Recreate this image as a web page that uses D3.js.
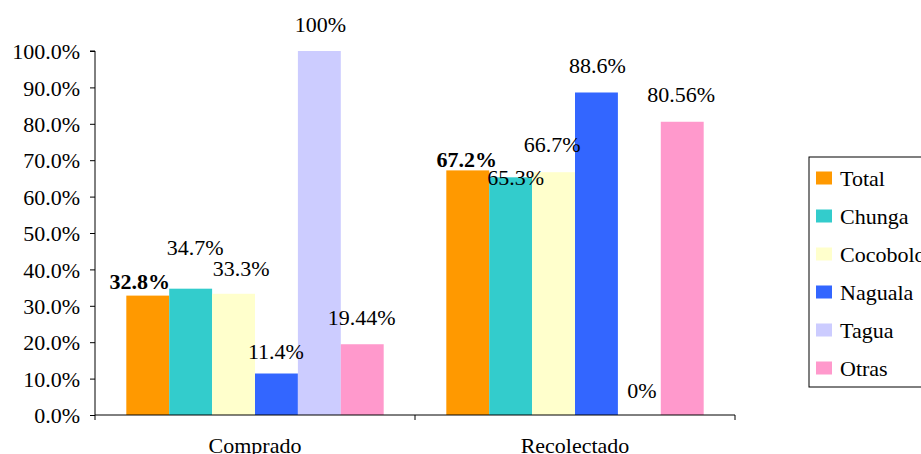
<!DOCTYPE html>
<html><head><meta charset="utf-8">
<script src="https://cdn.jsdelivr.net/npm/d3@7"></script>
<style>
body{margin:0;background:#fff;}
svg text{font-family:'Liberation Serif','DejaVu Serif',serif !important;fill:#000;}
</style></head>
<body>
<svg id="chart" width="921" height="454"></svg>
<script>
const categories = ["Comprado", "Recolectado"];
const seriesNames = ["Total", "Chunga", "Cocobolo", "Naguala", "Tagua", "Otras"];
const seriesColors = ["#FF9900", "#33CCCC", "#FFFFCC", "#3366FF", "#CCCCFF", "#FF99CC"];
const valuesComprado = [32.8, 34.7, 33.3, 11.4, 100, 19.44];
const valuesRecolectado = [67.2, 65.3, 66.7, 88.6, 0, 80.56];
const labelsComprado = ["32.8%", "34.7%", "33.3%", "11.4%", "100%", "19.44%"];
const labelsRecolectado = ["67.2%", "65.3%", "66.7%", "88.6%", "0%", "80.56%"];
const yTicks = [0, 10, 20, 30, 40, 50, 60, 70, 80, 90, 100];

// manual label nudges (dx, dy from bar top), as placed in the original
const labelNudge = [
  [[-8, -6.6], [4.5, -33.7], [7.5, -17.8], [-0.5, -14.5], [1, -19], [-0.5, -19.2]],
  [[-1, -3.4], [5, 7.7], [-1.5, -20], [1, -19.5], [2.5, -17], [-1, -19.8]]
];

const values = [valuesComprado, valuesRecolectado];
const labels = [labelsComprado, labelsRecolectado];

const FONT = "'Liberation Serif', 'DejaVu Serif', serif";
const FS = "22px";
const svg = d3.select("#chart");
const mLeft = 95, mRight = 735, mTop = 51, mBottom = 415;

const x0 = d3.scaleBand().domain(categories).range([mLeft, mRight]).padding(0);
const x1 = d3.scaleBand().domain(seriesNames).range([0, x0.bandwidth()]).paddingInner(0).paddingOuter(0.73);
const y = d3.scaleLinear().domain([0, 100]).range([mBottom, mTop]);

// y axis
const yAxis = d3.axisLeft(y).tickValues(yTicks).tickSize(5).tickPadding(10)
  .tickFormat(d => d.toFixed(1) + "%");
const gy = svg.append("g").attr("transform", `translate(${mLeft},0)`).call(yAxis)
  .attr("font-family", FONT);
gy.select(".domain").attr("stroke", "#000").attr("d", `M-5,${mTop}H0V${mBottom}`);
gy.selectAll(".tick line").attr("stroke", "#000");
gy.selectAll(".tick text").style("font-size", FS).attr("dy", "0.35em").attr("fill", "#000");

// bars
categories.forEach((c, ci) => {
  const g = svg.append("g").attr("transform", `translate(${x0(c)},0)`).attr("font-family", FONT);
  g.selectAll("rect").data(seriesNames).join("rect")
    .attr("x", d => x1(d))
    .attr("y", (d, i) => y(values[ci][i]))
    .attr("width", x1.bandwidth())
    .attr("height", (d, i) => y(0) - y(values[ci][i]))
    .attr("fill", (d, i) => seriesColors[i]);
  g.selectAll("text.lbl").data(seriesNames).join("text").attr("class", "lbl")
    .attr("x", (d, i) => x1(d) + x1.bandwidth() / 2 + labelNudge[ci][i][0])
    .attr("y", (d, i) => y(values[ci][i]) + labelNudge[ci][i][1])
    .attr("text-anchor", "middle")
    .style("font-size", FS)
    .style("font-weight", (d, i) => i === 0 ? "bold" : "normal")
    .text((d, i) => labels[ci][i]);
});

// x axis
const xAxis = d3.axisBottom(x0).tickSize(0).tickPadding(22);
const gx = svg.append("g").attr("transform", `translate(0,${mBottom})`).call(xAxis).attr("font-family", FONT);
gx.select(".domain").attr("stroke", "#000").attr("d", `M${mLeft},0H${mRight}`);
gx.selectAll(".tick text").style("font-size", FS).attr("fill", "#000");
[mLeft, mLeft + x0.bandwidth(), mRight].forEach(px => {
  svg.append("line").attr("x1", px).attr("x2", px).attr("y1", mBottom).attr("y2", mBottom + 5).attr("stroke", "#000");
});

// legend
const lg = svg.append("g").attr("transform", "translate(809,157)").attr("font-family", FONT);
lg.append("rect").attr("width", 130).attr("height", 230).attr("fill", "#fff").attr("stroke", "#000");
const items = lg.selectAll("g.item").data(seriesNames).join("g").attr("class", "item")
  .attr("transform", (d, i) => `translate(7,${21 + i * 38})`);
items.append("rect").attr("x", 0).attr("y", -6.5).attr("width", 16).attr("height", 13)
  .attr("fill", (d, i) => seriesColors[i]);
items.append("text").attr("x", 24).attr("dy", "0.35em").style("font-size", FS).text(d => d);
</script>
</body></html>
